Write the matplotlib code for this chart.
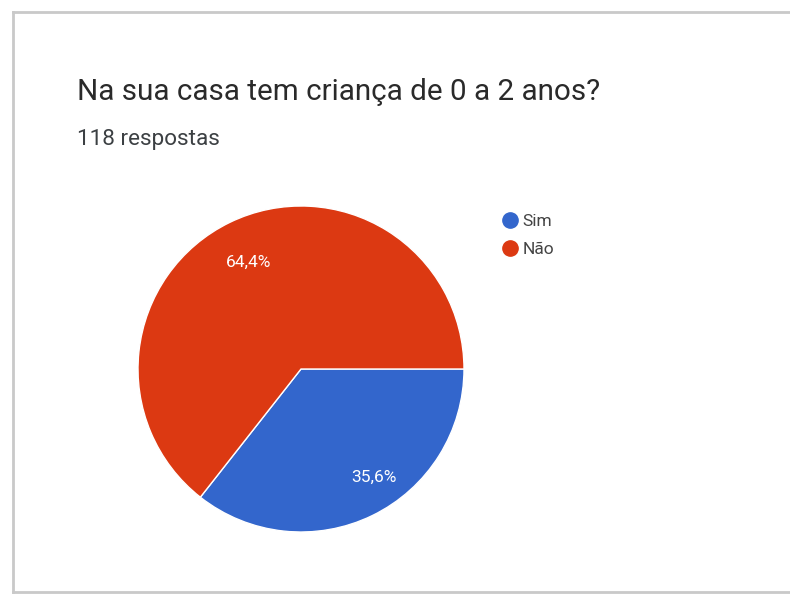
import numpy as np
import matplotlib.pyplot as plt
from matplotlib.lines import Line2D

# Survey answers
labels = ["Sim", "Não"]
counts = [42, 76]
colors = ["#3366CC", "#DC3912"]
title = "Na sua casa tem criança de 0 a 2 anos?"
subtitle = "118 respostas"

plt.rcParams["font.family"] = ["Roboto", "DejaVu Sans"]

W, H = 790, 597
fig = plt.figure(figsize=(W / 100, H / 100), dpi=100)
fig.patch.set_facecolor("white")

# Card border (left, top, bottom)
border = "#c9c9c9"
fig.add_artist(Line2D([13 / W, 13 / W], [1 - 12 / H, 1 - 592 / H], color=border, lw=2))
fig.add_artist(Line2D([13 / W, 1], [1 - 12 / H, 1 - 12 / H], color=border, lw=2))
fig.add_artist(Line2D([13 / W, 1], [1 - 592 / H, 1 - 592 / H], color=border, lw=2))

fig.text(77 / W, 1 - 92 / H, title, fontsize=21.3, color="#2a2a2a", va="center", ha="left")
fig.text(77 / W, 1 - 140 / H, subtitle, fontsize=16.2, color="#3c4043", va="center", ha="left")

# Pie area
cx, cy, r = 301, 369, 163
ax = fig.add_axes([(cx - r) / W, (H - cy - r) / H, 2 * r / W, 2 * r / H])
wedges, texts, autotexts = ax.pie(
    counts, colors=colors, startangle=0, counterclock=False, radius=1,
    autopct=lambda p: f"{p:.1f}%".replace(".", ","), pctdistance=0.73,
    wedgeprops=dict(edgecolor="white", linewidth=1),
    textprops=dict(color="white", fontsize=12.5),
)
# nudge the small slice's label toward its start edge
ang = np.deg2rad(-56)
autotexts[0].set_position((0.8 * np.cos(ang), 0.8 * np.sin(ang)))
ax.set_xlim(-1, 1)
ax.set_ylim(-1, 1)
ax.set_aspect("equal")
ax.axis("off")

handles = [Line2D([], [], marker="o", linestyle="", markersize=11,
                  markerfacecolor=c, markeredgecolor=c) for c in colors]
fig.legend(handles, labels, loc="upper left", bbox_to_anchor=(484 / W, 1 - 198 / H),
           frameon=False, fontsize=12.5, handletextpad=0.1, labelspacing=0.75,
           handlelength=1.2, labelcolor="#444444")

fig.savefig("out.png", dpi=100, facecolor="white")
